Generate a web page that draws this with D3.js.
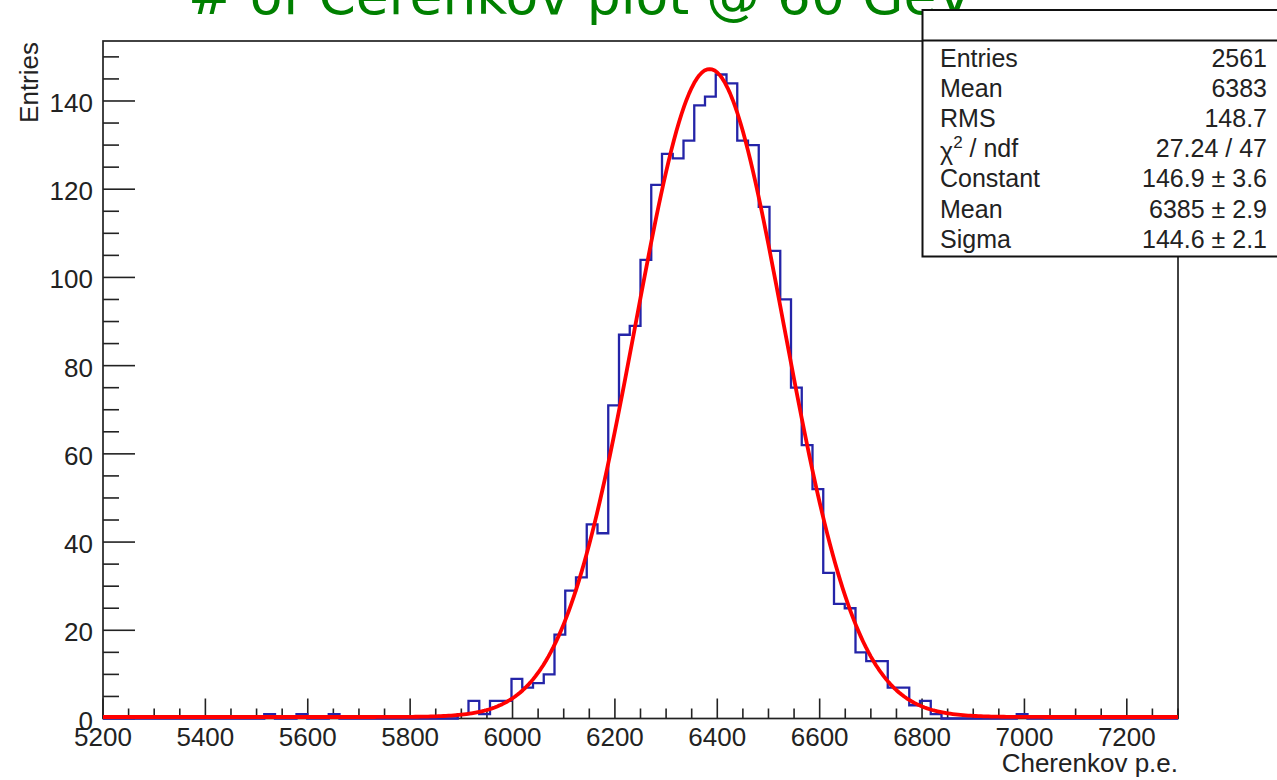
<!DOCTYPE html>
<html>
<head>
<meta charset="utf-8">
<script src="https://cdn.jsdelivr.net/npm/d3@7"></script>
<style>
  html, body { margin: 0; padding: 0; background: #ffffff; overflow: hidden; }
  svg { display: block; }
</style>
</head>
<body>
<svg id="chart" width="1277" height="780"></svg>
<script>
// ---------------- data ----------------
const titleText = "# of Cerenkov plot @ 60 GeV";
const xAxisTitle = "Cherenkov p.e.";
const yAxisTitle = "Entries";
const xRange = [5200, 7300];
const binWidth = 21;
const binCounts = [
  0, 0, 0, 0, 0, 0, 0, 0, 0, 0,
  0, 0, 0, 0, 0, 1, 0, 0, 1, 0,
  0, 1, 0, 0, 0, 0, 0, 0, 0, 0,
  0, 0, 0, 1, 4, 1, 4, 4, 9, 7,
  8, 10, 19, 29, 32, 44, 42, 71, 87, 89,
  104, 121, 128, 127, 131, 139, 141, 146, 144, 131,
  130, 116, 106, 95, 75, 62, 52, 33, 26, 25,
  15, 13, 13, 7, 7, 3, 4, 1, 0, 0,
  0, 0, 0, 0, 0, 1, 0, 0, 0, 0,
  0, 0, 0, 0, 0, 0, 0, 0, 0, 0
];
const xMajorTicks = [5200, 5400, 5600, 5800, 6000, 6200, 6400, 6600, 6800, 7000, 7200];
const yMajorTicks = [0, 20, 40, 60, 80, 100, 120, 140];
const yMax = 153.6;
// Gaussian fit parameters (from the stats box)
const fitConstant = 146.9;
const fitMean = 6385;
const fitSigma = 144.6;
const statLabels = ["Entries", "Mean", "RMS", "χ2 / ndf", "Constant", "Mean", "Sigma"];
const statValues = ["2561", "6383", "148.7", "27.24 / 47", "146.9 ± 3.6", "6385 ± 2.9", "144.6 ± 2.1"];

// ---------------- drawing ----------------
const svg = d3.select("#chart");
const frame = { left: 103, right: 1178, top: 41, bottom: 718.5 };
const x = d3.scaleLinear().domain(xRange).range([frame.left, frame.right]);
const y = d3.scaleLinear().domain([0, yMax]).range([frame.bottom, frame.top]);
const axisFont = "'Liberation Sans', Arial, Helvetica, sans-serif";

// title (partly above the page)
svg.append("text")
  .attr("x", 188).attr("y", 14)
  .attr("font-family", "'DejaVu Sans', Verdana, sans-serif")
  .attr("font-size", 53.5)
  .attr("fill", "#008000")
  .text(titleText);

// frame
svg.append("rect")
  .attr("x", frame.left).attr("y", frame.top)
  .attr("width", frame.right - frame.left).attr("height", frame.bottom - frame.top)
  .attr("fill", "none").attr("stroke", "#222").attr("stroke-width", 1.7);

// x ticks
const xMinor = d3.range(xRange[0], xRange[1] + 1, 50);
svg.append("g").selectAll("line").data(xMinor).join("line")
  .attr("x1", d => x(d)).attr("x2", d => x(d))
  .attr("y1", frame.bottom)
  .attr("y2", d => frame.bottom - (d % 200 === 0 ? 20 : 10))
  .attr("stroke", "#222").attr("stroke-width", 1.6);
svg.append("g").selectAll("text").data(xMajorTicks).join("text")
  .attr("x", d => x(d)).attr("y", 746)
  .attr("text-anchor", "middle")
  .attr("font-family", axisFont).attr("font-size", 26).attr("fill", "#222")
  .text(d => d);
svg.append("text")
  .attr("x", frame.right).attr("y", 772)
  .attr("text-anchor", "end")
  .attr("font-family", axisFont).attr("font-size", 26).attr("fill", "#222")
  .text(xAxisTitle);

// y ticks
const yMinor = d3.range(0, yMax, 5);
svg.append("g").selectAll("line").data(yMinor).join("line")
  .attr("x1", frame.left)
  .attr("x2", d => frame.left + (d % 20 === 0 ? 32 : 16))
  .attr("y1", d => y(d)).attr("y2", d => y(d))
  .attr("stroke", "#222").attr("stroke-width", 1.6);
svg.append("g").selectAll("text").data(yMajorTicks).join("text")
  .attr("x", 93).attr("y", d => y(d) + 11)
  .attr("text-anchor", "end")
  .attr("font-family", axisFont).attr("font-size", 26).attr("fill", "#222")
  .text(d => d);
svg.append("text")
  .attr("transform", `translate(38, ${frame.top + 1}) rotate(-90)`)
  .attr("text-anchor", "end")
  .attr("font-family", axisFont).attr("font-size", 26).attr("fill", "#222")
  .text(yAxisTitle);

// histogram outline
const pts = [[xRange[0], 0]];
binCounts.forEach((c, i) => {
  const lo = xRange[0] + i * binWidth;
  pts.push([lo, c], [lo + binWidth, c]);
});
pts.push([xRange[1], 0]);
svg.append("path")
  .attr("d", d3.line().x(d => x(d[0])).y(d => y(d[1]))(pts))
  .attr("fill", "none").attr("stroke", "#2424a8").attr("stroke-width", 2.3);

// fit curve
const fitXs = d3.range(xRange[0], xRange[1] + 0.001, 5);
const gauss = v => fitConstant * Math.exp(-0.5 * Math.pow((v - fitMean) / fitSigma, 2));
svg.append("path")
  .attr("d", d3.line().x(d => x(d)).y(d => y(gauss(d)) - 1.5).curve(d3.curveLinear)(fitXs))
  .attr("fill", "none").attr("stroke", "#ff0000").attr("stroke-width", 3.8)
  .attr("stroke-linejoin", "round");

// stats box
const box = { x: 922.5, y: 10, w: 400, h: 246.5 };
svg.append("rect")
  .attr("x", box.x).attr("y", box.y).attr("width", box.w).attr("height", box.h)
  .attr("fill", "#ffffff").attr("stroke", "#111").attr("stroke-width", 2);
svg.append("line")
  .attr("x1", box.x).attr("x2", box.x + box.w)
  .attr("y1", 40.5).attr("y2", 40.5)
  .attr("stroke", "#111").attr("stroke-width", 1.8);
const rowY = i => 67 + i * 30.1;
const gLab = svg.append("g").attr("font-family", axisFont).attr("font-size", 25).attr("fill", "#222");
statLabels.forEach((lab, i) => {
  const t = gLab.append("text").attr("x", 940).attr("y", rowY(i));
  if (lab.startsWith("χ2")) {
    t.append("tspan").attr("dy", 3).text("χ");
    t.append("tspan").attr("dy", -12).attr("font-size", 17).text("2");
    t.append("tspan").attr("dy", 9).text(" / ndf");
  } else {
    t.text(lab);
  }
});
statValues.forEach((val, i) => {
  gLab.append("text").attr("x", 1267).attr("y", rowY(i))
    .attr("text-anchor", "end").text(val);
});
</script>
</body>
</html>
